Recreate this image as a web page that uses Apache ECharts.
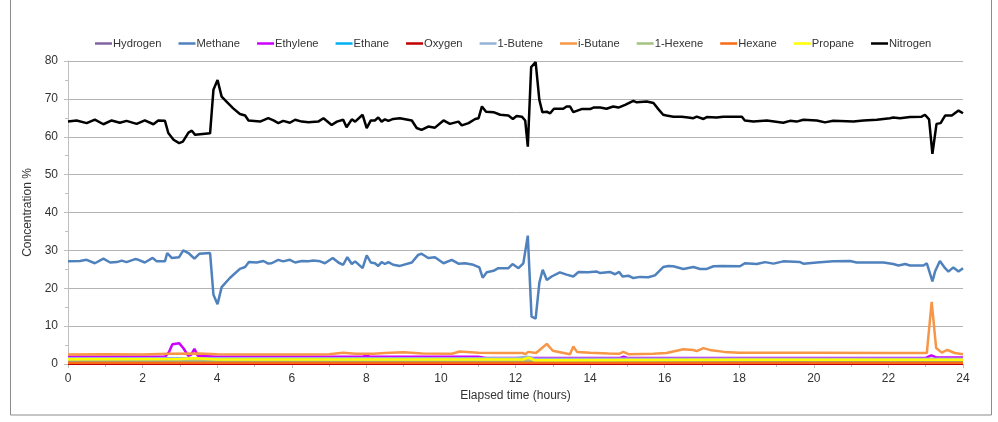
<!DOCTYPE html>
<html><head><meta charset="utf-8">
<script src="https://cdn.jsdelivr.net/npm/echarts@6/dist/echarts.min.js"></script>
<style>html,body{margin:0;padding:0;background:#fff}#c{width:998px;height:422px}</style>
</head><body><div id="c"></div>
<script>
const seriesNames = ['Hydrogen','Methane','Ethylene','Ethane','Oxygen','1-Butene','i-Butane','1-Hexene','Hexane','Propane','Nitrogen'];
const xTicks = [0,2,4,6,8,10,12,14,16,18,20,22,24];

const nitrogenHours = [0,0.23,0.5,0.72,0.95,1.17,1.39,1.57,1.84,2.06,2.29,2.42,2.6,2.69,2.83,2.98,3.08,3.23,3.32,3.41,3.81,3.9,4.01,4.12,4.25,4.43,4.61,4.75,4.84,5.15,5.37,5.51,5.64,5.77,5.95,6.09,6.27,6.45,6.71,6.85,7.07,7.21,7.38,7.47,7.61,7.7,7.9,8.01,8.12,8.23,8.32,8.41,8.5,8.59,8.72,8.9,9.22,9.35,9.48,9.66,9.84,10.07,10.24,10.47,10.56,10.74,10.92,11.01,11.1,11.21,11.41,11.59,11.81,11.93,12.03,12.17,12.26,12.33,12.42,12.54,12.64,12.72,12.84,12.93,13.03,13.28,13.37,13.46,13.55,13.77,14.0,14.09,14.27,14.44,14.62,14.76,14.94,15.16,15.25,15.52,15.7,15.83,15.96,16.05,16.23,16.46,16.63,16.77,16.86,17.04,17.13,17.39,17.57,17.84,18.07,18.15,18.38,18.74,19.18,19.36,19.54,19.72,20.08,20.3,20.52,21.06,21.33,21.69,22.04,22.13,22.31,22.58,22.89,22.98,23.09,23.18,23.29,23.4,23.52,23.7,23.88,24];
const nitrogenValues = [64.0,64.3,63.6,64.5,63.3,64.3,63.7,64.2,63.4,64.3,63.3,64.3,64.2,61.0,59.2,58.3,58.7,61.1,61.6,60.5,60.9,72.4,75.0,70.6,69.3,67.5,66.0,65.6,64.3,64.0,64.9,64.3,63.6,64.2,63.7,64.5,64.0,63.8,64.0,64.9,63.1,64.0,64.5,62.5,64.6,64.0,65.8,62.3,64.3,64.3,65.1,64.0,64.6,64.2,64.7,64.9,64.3,62.3,61.8,62.7,62.4,64.3,63.4,64.0,63.0,63.6,64.7,64.9,68.0,66.6,66.5,65.8,65.6,64.7,65.5,65.3,64.3,57.4,78.4,79.7,69.7,66.5,66.6,66.2,67.4,67.4,68.0,68.0,66.5,67.3,67.3,67.7,67.7,67.4,68.0,67.7,68.4,69.5,69.1,69.3,68.9,67.3,65.8,65.6,65.3,65.3,65.1,64.9,65.3,64.7,65.2,65.1,65.3,65.3,65.3,64.3,64.0,64.3,63.7,64.2,64.0,64.5,64.3,63.8,64.2,64.0,64.3,64.5,64.9,65.1,64.9,65.2,65.3,65.8,64.6,55.5,63.4,63.6,65.6,65.6,66.9,66.2];

const methaneHours = [0,0.32,0.5,0.72,0.95,1.13,1.31,1.44,1.57,1.8,1.89,2.06,2.27,2.38,2.6,2.66,2.78,2.98,3.09,3.23,3.39,3.52,3.81,3.9,4.01,4.12,4.34,4.61,4.75,4.85,5.06,5.24,5.37,5.46,5.64,5.77,5.95,6.09,6.27,6.45,6.58,6.76,6.89,7.1,7.25,7.38,7.49,7.61,7.7,7.9,8.01,8.12,8.23,8.32,8.41,8.5,8.59,8.72,8.9,9.22,9.39,9.48,9.66,9.84,10.07,10.29,10.47,10.65,10.87,11.03,11.12,11.23,11.41,11.54,11.81,11.92,12.08,12.21,12.33,12.43,12.54,12.64,12.73,12.84,12.97,13.19,13.37,13.55,13.69,13.95,14.18,14.27,14.53,14.67,14.78,14.87,15.03,15.16,15.34,15.56,15.74,15.96,16.1,16.23,16.5,16.77,16.95,17.13,17.31,17.53,18.02,18.15,18.47,18.69,18.92,19.18,19.63,19.72,20.08,20.52,20.97,21.15,21.87,22.13,22.27,22.45,22.58,22.94,23.03,23.07,23.18,23.25,23.38,23.52,23.61,23.74,23.88,24];
const methaneValues = [27.1,27.2,27.5,26.6,27.8,26.8,26.9,27.3,26.9,27.7,27.5,26.8,28.0,27.1,27.1,29.3,28.0,28.2,30.0,29.3,27.8,29.1,29.3,18.3,15.8,20.3,22.7,25.1,25.6,26.9,26.8,27.2,26.5,26.6,27.5,27.1,27.5,26.8,27.2,27.1,27.3,27.1,26.6,28.0,26.8,26.2,28.2,26.4,27.1,25.3,28.7,26.8,26.6,25.9,26.9,26.4,26.9,26.2,25.9,26.8,28.8,29.1,28.0,28.2,26.6,27.5,26.5,26.6,26.2,25.5,22.8,24.2,24.6,25.3,25.3,26.4,25.3,26.6,33.9,12.5,12.0,21.5,24.9,22.2,23.1,24.2,23.6,23.1,24.3,24.2,24.4,24.0,24.3,23.7,24.3,23.1,23.3,22.7,23.0,22.9,23.4,25.6,25.9,25.8,25.1,25.6,25.1,25.1,25.8,25.9,25.8,26.6,26.4,26.9,26.5,27.1,26.9,26.5,26.8,27.1,27.2,26.8,26.8,26.4,26.0,26.4,26.0,26.0,26.6,25.3,21.8,24.4,27.2,25.3,24.4,25.5,24.4,25.3];

const iButaneHours = [0,1,2,2.7,3.5,4,5,6,7,7.38,7.7,8.2,8.5,9.0,9.5,10.3,10.5,11,11.6,12.2,12.26,12.34,12.55,12.84,13.0,13.46,13.55,13.65,14.0,14.5,14.78,14.89,15.03,15.7,16.05,16.5,16.77,16.86,17.04,17.25,17.6,18,20,22,23.03,23.16,23.28,23.43,23.58,23.78,24];
const iButaneValues = [2.5,2.6,2.5,2.7,2.8,2.6,2.5,2.5,2.6,3.0,2.7,2.7,2.9,3.1,2.8,2.7,3.3,3.0,2.9,2.9,2.6,3.2,2.9,5.3,3.5,2.6,4.6,3.2,3.0,2.8,2.7,3.2,2.6,2.7,2.9,3.9,3.7,3.4,4.2,3.6,3.2,3.0,3.0,2.9,2.9,16.4,4.2,3.0,3.7,2.9,2.6];

const ethyleneHours = [0,2.6,2.7,2.8,2.98,3.1,3.22,3.3,3.39,3.48,4,7.9,8.0,8.1,11.0,11.2,14.8,14.9,15.0,23.0,23.15,23.3,24];
const ethyleneValues = [1.9,1.9,3.0,5.2,5.5,4.1,2.2,2.4,4.0,2.2,1.9,1.9,2.2,1.9,1.9,1.6,1.6,1.9,1.6,1.6,2.3,1.7,1.7];

const butene1Hours = [0,6,12,12.33,12.5,18,24];
const butene1Values = [1.5,1.5,1.5,1.9,1.4,1.4,1.4];

const propaneHours = [0,3,3.4,4,12.2,12.35,12.5,18,24];
const propaneValues = [1.25,1.3,1.5,1.2,1.2,1.7,1.0,1.1,1.1];

const hexene1Hours = [0,12,24];
const hexene1Values = [0.95,0.95,0.95];

const ethaneHours = [0,1.9,2.0,2.2,3.9,4.1,4.4,5.5,9.0,9.2,9.4,11,11.1,11.3,12.4,12.5,12.6,17.8,18,23.1,23.2,23.4,24];
const ethaneValues = [0.7,0.7,0.4,0.7,0.7,0.35,0.6,0.6,0.6,0.4,0.6,0.6,0.4,0.6,0.6,0.9,0.5,0.5,0.7,0.6,0.3,0.6,0.6];

const hydrogenHours = [0,12,24];
const hydrogenValues = [0.45,0.45,0.45];

const hexaneHours = [0,12,24];
const hexaneValues = [0.3,0.3,0.3];

const oxygenHours = [0,12,24];
const oxygenValues = [0.05,0.05,0.05];

const colors = {
  'Hydrogen':'#8064A2','Methane':'#4F81BD','Ethylene':'#CC00FF','Ethane':'#00B0F0','Oxygen':'#C00000',
  '1-Butene':'#95B3D7','i-Butane':'#F79646','1-Hexene':'#A6C282','Hexane':'#F96B14','Propane':'#FFFF00','Nitrogen':'#000000'
};
const dataMap = {
  'Hydrogen':[hydrogenHours,hydrogenValues],'Methane':[methaneHours,methaneValues],
  'Ethylene':[ethyleneHours,ethyleneValues],'Ethane':[ethaneHours,ethaneValues],
  'Oxygen':[oxygenHours,oxygenValues],'1-Butene':[butene1Hours,butene1Values],
  'i-Butane':[iButaneHours,iButaneValues],'1-Hexene':[hexene1Hours,hexene1Values],
  'Hexane':[hexaneHours,hexaneValues],'Propane':[propaneHours,propaneValues],
  'Nitrogen':[nitrogenHours,nitrogenValues]
};
function pairs(h,v){const n=Math.min(h.length,v.length);const out=[];for(let i=0;i<n;i++)out.push([h[i],v[i]]);return out;}

const chart = echarts.init(document.getElementById('c'), null, {renderer:'canvas'});
const font = 'Liberation Sans, Arial, sans-serif';
chart.setOption({
  animation:false,
  textStyle:{fontFamily:font},
  graphic:[{type:'rect',shape:{x:10.5,y:-2,width:981,height:417},style:{fill:'none',stroke:'#8c8c8c',lineWidth:1},silent:true}],
  legend:{
    data:seriesNames, left:90, top:33, icon:'rect', itemWidth:17, itemHeight:2.5, itemGap:17,
    textStyle:{fontSize:11.2,color:'#333',fontFamily:font,padding:[0,0,0,-4]}
  },
  grid:{left:68,right:35,top:61,bottom:58,containLabel:false},
  xAxis:{
    type:'value',min:0,max:24,interval:2,
    axisLine:{lineStyle:{color:'#bfbfbf'}},
    axisTick:{show:true,length:4,lineStyle:{color:'#bfbfbf'}},
    minorTick:{show:true,splitNumber:2,length:3,lineStyle:{color:'#bfbfbf'}},
    splitLine:{show:false},
    axisLabel:{fontSize:12,color:'#333',margin:9,fontFamily:font,formatter:v=>xTicks.includes(v)?String(v):''},
    name:'Elapsed time (hours)',nameLocation:'middle',nameGap:26,
    nameTextStyle:{fontSize:12,color:'#333',fontFamily:font}
  },
  yAxis:{
    type:'value',min:0,max:80,interval:10,
    axisLine:{show:true,lineStyle:{color:'#bfbfbf'}},
    axisTick:{show:true,length:4,lineStyle:{color:'#bfbfbf'}},
    minorTick:{show:true,splitNumber:2,length:3,lineStyle:{color:'#bfbfbf'}},
    splitLine:{show:true,lineStyle:{color:'#b3b3b3',width:1}},
    axisLabel:{fontSize:12,color:'#333',margin:10,fontFamily:font},
    name:'Concentration %',nameLocation:'middle',nameGap:31,
    nameTextStyle:{fontSize:12,color:'#333',fontFamily:font}
  },
  series: seriesNames.map(n=>({
    name:n,type:'line',showSymbol:false,symbol:'none',
    data:pairs(dataMap[n][0],dataMap[n][1]),
    lineStyle:{color:colors[n],width:2.5},itemStyle:{color:colors[n]},
    emphasis:{disabled:true}
  }))
});
</script></body></html>
